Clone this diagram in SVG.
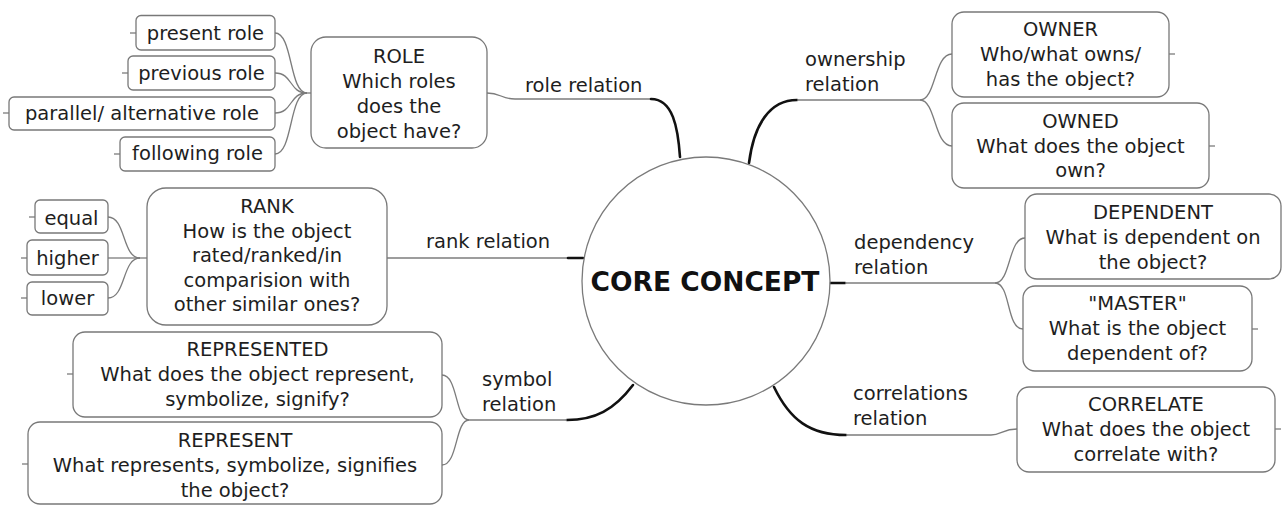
<svg xmlns="http://www.w3.org/2000/svg" width="1283" height="506" viewBox="0 0 1283 506">
<style>
.bx{fill:#fff;stroke:#787878;stroke-width:1.3}
.t{font-family:"DejaVu Sans","Noto Sans",sans-serif;font-size:19.5px;fill:#1e1e1e;text-anchor:middle}
.l{font-family:"DejaVu Sans","Noto Sans",sans-serif;font-size:19.5px;fill:#1e1e1e}
.c{fill:none;stroke:#7c7c7c;stroke-width:1.3}
.k{fill:none;stroke:#111;stroke-width:2.6;stroke-linecap:round}
.tk{stroke:#7c7c7c;stroke-width:1.3}
.core{font-family:"DejaVu Sans","Noto Sans",sans-serif;font-size:26.5px;font-weight:bold;fill:#111;text-anchor:middle}
</style>
<rect width="1283" height="506" fill="#fff"/>
<g id="connectors">
  <path class="c" d="M275,33 C293,33 289,93 307,93"/>
  <path class="c" d="M275,73 C293,73 289,93 307,93"/>
  <path class="c" d="M275,113 C293,113 289,93 307,93"/>
  <path class="c" d="M275,154 C293,154 289,93 307,93"/>
  <path class="c" d="M307,93 L311,93"/>
  <path class="c" d="M487,93 C501,93 501,99 515,99 L651,99"/>
  <path class="k" d="M651,99 C673,99 678,128 680,157"/>
  <path class="c" d="M108,217 C126,217 122,258 140,258"/>
  <path class="c" d="M108,258 L140,258"/>
  <path class="c" d="M108,298 C126,298 122,258 140,258"/>
  <path class="c" d="M140,258 L147,258"/>
  <path class="c" d="M387,258 L568,258"/>
  <path class="k" d="M568,258 L583,258"/>
  <path class="k" d="M633,385 C614,410 595,420 567,420"/>
  <path class="c" d="M567,420 L469,420"/>
  <path class="c" d="M469,420 C455,420 458,375 442,375"/>
  <path class="c" d="M469,420 C455,420 458,465 442,465"/>
  <path class="k" d="M749,163 C754,124 770,100 797,100"/>
  <path class="c" d="M797,100 L920,100"/>
  <path class="c" d="M920,100 C936,100 934,54 952,54"/>
  <path class="c" d="M920,100 C936,100 934,146 952,146"/>
  <path class="k" d="M830,283 L845,283"/>
  <path class="c" d="M845,283 L995,283"/>
  <path class="c" d="M995,283 C1011,283 1008,238 1025,238"/>
  <path class="c" d="M995,283 C1011,283 1006,329 1023,329"/>
  <path class="k" d="M774,387 C790,420 810,435 846,435"/>
  <path class="c" d="M846,435 L991,435 C1001,435 1003,429 1017,429"/>
</g>
<g id="labels">
  <text class="l" x="525" y="92">role relation</text>
  <text class="l" x="426" y="248">rank relation</text>
  <text class="l" x="482" y="386">symbol</text>
  <text class="l" x="482" y="411">relation</text>
  <text class="l" x="805" y="66">ownership</text>
  <text class="l" x="805" y="91">relation</text>
  <text class="l" x="854" y="249">dependency</text>
  <text class="l" x="854" y="274">relation</text>
  <text class="l" x="853" y="400">correlations</text>
  <text class="l" x="853" y="425">relation</text>
</g>
<g id="core">
  <circle cx="706" cy="281" r="124" fill="#fff" stroke="#7a7a7a" stroke-width="1.3"/>
  <text class="core" x="705" y="291">CORE CONCEPT</text>
</g>
<g id="present-role">
  <line class="tk" x1="130" y1="33" x2="136" y2="33"/>
  <rect class="bx" x="136" y="15.5" width="139" height="34.5" rx="5"/>
  <text class="t" x="205.5" y="40">present role</text>
</g>
<g id="previous-role">
  <line class="tk" x1="122" y1="73" x2="128" y2="73"/>
  <rect class="bx" x="128" y="56" width="147" height="34" rx="5"/>
  <text class="t" x="201.5" y="80">previous role</text>
</g>
<g id="parallel-role">
  <line class="tk" x1="3" y1="113" x2="9" y2="113"/>
  <rect class="bx" x="9" y="97" width="266" height="33" rx="5"/>
  <text class="t" x="142" y="120">parallel/ alternative role</text>
</g>
<g id="following-role">
  <line class="tk" x1="114" y1="154" x2="120" y2="154"/>
  <rect class="bx" x="120" y="137" width="155" height="34" rx="5"/>
  <text class="t" x="197.5" y="160">following role</text>
</g>
<g id="role">
  <rect class="bx" x="311" y="37" width="176" height="111" rx="15"/>
  <text class="t" x="399" y="63">ROLE</text>
  <text class="t" x="399" y="88">Which roles</text>
  <text class="t" x="399" y="113">does the</text>
  <text class="t" x="399" y="138">object have?</text>
</g>
<g id="equal">
  <line class="tk" x1="29" y1="217" x2="35" y2="217"/>
  <rect class="bx" x="35" y="200" width="73" height="33" rx="5"/>
  <text class="t" x="71.5" y="225">equal</text>
</g>
<g id="higher">
  <line class="tk" x1="21" y1="258" x2="27" y2="258"/>
  <rect class="bx" x="27" y="240" width="81" height="35" rx="5"/>
  <text class="t" x="67.5" y="265">higher</text>
</g>
<g id="lower">
  <line class="tk" x1="21" y1="298" x2="27" y2="298"/>
  <rect class="bx" x="27" y="282" width="81" height="33" rx="5"/>
  <text class="t" x="67.5" y="305">lower</text>
</g>
<g id="rank">
  <rect class="bx" x="147" y="188" width="240" height="137" rx="19"/>
  <text class="t" x="267" y="213">RANK</text>
  <text class="t" x="267" y="237.5">How is the object</text>
  <text class="t" x="267" y="262">rated/ranked/in</text>
  <text class="t" x="267" y="286.5">comparision with</text>
  <text class="t" x="267" y="311">other similar ones?</text>
</g>
<g id="represented">
  <line class="tk" x1="67" y1="374" x2="73" y2="374"/>
  <rect class="bx" x="73" y="332" width="369" height="85" rx="12"/>
  <text class="t" x="257.5" y="356">REPRESENTED</text>
  <text class="t" x="257.5" y="381">What does the object represent,</text>
  <text class="t" x="257.5" y="406">symbolize, signify?</text>
</g>
<g id="represent">
  <line class="tk" x1="22" y1="464" x2="28" y2="464"/>
  <rect class="bx" x="28" y="422" width="414" height="82" rx="12"/>
  <text class="t" x="235" y="447">REPRESENT</text>
  <text class="t" x="235" y="472">What represents, symbolize, signifies</text>
  <text class="t" x="235" y="497">the object?</text>
</g>
<g id="owner">
  <rect class="bx" x="952" y="12" width="217" height="85" rx="12"/>
  <line class="tk" x1="1169" y1="54" x2="1175" y2="54"/>
  <text class="t" x="1060.5" y="36">OWNER</text>
  <text class="t" x="1060.5" y="61">Who/what owns/</text>
  <text class="t" x="1060.5" y="86">has the object?</text>
</g>
<g id="owned">
  <rect class="bx" x="952" y="103" width="257" height="85" rx="12"/>
  <line class="tk" x1="1209" y1="146" x2="1215" y2="146"/>
  <text class="t" x="1080.5" y="127.5">OWNED</text>
  <text class="t" x="1080.5" y="152.5">What does the object</text>
  <text class="t" x="1080.5" y="177">own?</text>
</g>
<g id="dependent">
  <rect class="bx" x="1025" y="194" width="256" height="85" rx="12"/>
  <text class="t" x="1153" y="218.5">DEPENDENT</text>
  <text class="t" x="1153" y="244">What is dependent on</text>
  <text class="t" x="1153" y="269">the object?</text>
</g>
<g id="master">
  <rect class="bx" x="1023" y="286" width="229" height="85" rx="12"/>
  <line class="tk" x1="1252" y1="329" x2="1258" y2="329"/>
  <text class="t" x="1137.5" y="310">"MASTER"</text>
  <text class="t" x="1137.5" y="335">What is the object</text>
  <text class="t" x="1137.5" y="360">dependent of?</text>
</g>
<g id="correlate">
  <rect class="bx" x="1017" y="387" width="258" height="85" rx="12"/>
  <line class="tk" x1="1275" y1="429" x2="1281" y2="429"/>
  <text class="t" x="1146" y="411">CORRELATE</text>
  <text class="t" x="1146" y="436">What does the object</text>
  <text class="t" x="1146" y="461">correlate with?</text>
</g>
</svg>
